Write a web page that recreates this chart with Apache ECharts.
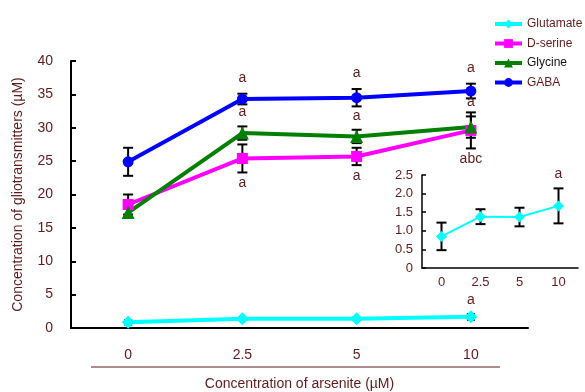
<!DOCTYPE html>
<html>
<head>
<meta charset="utf-8">
<script src="https://cdn.jsdelivr.net/npm/echarts@6/dist/echarts.min.js"></script>
<style>
  html, body { margin: 0; padding: 0; background: #fff; }
  #main { width: 585px; height: 392px; }
</style>
</head>
<body>
<div id="main"></div>
<script>
// data -----------------------------------------
var categories = ['0', '2.5', '5', '10'];
var yTicks = [0, 5, 10, 15, 20, 25, 30, 35, 40];
var insetTicks = [0, 0.5, 1.0, 1.5, 2.0, 2.5];

var glutamate = [0.85, 1.38, 1.37, 1.67];
var glutamateErr = [0.37, 0.2, 0.25, 0.47];
var dserine = [18.5, 25.4, 25.7, 29.6];
var dserineErr = [1.5, 2.1, 1.3, 2.7];
var glycine = [17.3, 29.2, 28.7, 30.1];
var glycineErr = [0.8, 1.0, 1.0, 1.6];
var gaba = [24.9, 34.3, 34.5, 35.5];
var gabaErr = [2.1, 0.8, 1.3, 1.1];

var gabaLabels = ['', 'a', 'a', 'a'];
var glycineLabels = ['', 'a', 'a', 'a'];
var dserineLabels = ['', 'a', 'a', 'abc'];
var glutamateLabels = ['', '', '', 'a'];

var textColor = '#5e1a1a';
var font = 'Liberation Sans, Arial, sans-serif';

//error bars-----------------------------------------
function errorSeries(means, errs, axis, cap, lw) {
    return {
        type: 'custom',
        xAxisIndex: axis,
        yAxisIndex: axis,
        z: 1,
        silent: true,
        data: means.map(function (m, i) { return [i, m - errs[i], m + errs[i]]; }),
        renderItem: function (params, api) {
            var lo = api.coord([api.value(0), api.value(1)]);
            var hi = api.coord([api.value(0), api.value(2)]);
            var st = {stroke: '#000', lineWidth: lw};
            return {
                type: 'group',
                children: [
                    {type: 'line', shape: {x1: lo[0], y1: lo[1], x2: hi[0], y2: hi[1]}, style: st},
                    {type: 'line', shape: {x1: lo[0] - cap, y1: lo[1], x2: lo[0] + cap, y2: lo[1]}, style: st},
                    {type: 'line', shape: {x1: hi[0] - cap, y1: hi[1], x2: hi[0] + cap, y2: hi[1]}, style: st}
                ]
            };
        }
    };
}

//significance letters-----------------------------------------
function letterSeries(texts, means, errs, dir, axis, gap) {
    return {
        type: 'custom',
        xAxisIndex: axis,
        yAxisIndex: axis,
        z: 5,
        silent: true,
        data: means.map(function (m, i) { return [i, dir > 0 ? m + errs[i] : m - errs[i]]; }),
        renderItem: function (params, api) {
            var p = api.coord([api.value(0), api.value(1)]);
            return {
                type: 'text',
                style: {
                    x: p[0],
                    y: p[1] - dir * gap,
                    text: texts[params.dataIndex],
                    fill: textColor,
                    font: '14px ' + font,
                    textAlign: 'center',
                    textVerticalAlign: 'middle'
                }
            };
        }
    };
}

function lineSeries(name, data, color, symbol, size, width, axis) {
    return {
        name: name,
        type: 'line',
        xAxisIndex: axis,
        yAxisIndex: axis,
        z: 3,
        data: data,
        symbol: symbol,
        symbolSize: size,
        itemStyle: {color: color},
        lineStyle: {color: color, width: width}
    };
}

var axisLineStyle = {color: '#000', width: 2};
var labelStyle = {color: textColor, fontSize: 13, fontFamily: font};

var myChart = echarts.init(document.getElementById('main'));

var option = {
    animation: false,
    legend: {
        orient: 'vertical',
        left: 488,
        top: 13,
        itemWidth: 27,
        itemHeight: 11,
        itemGap: 7.5,
        lineStyle: {width: 4},
        textStyle: {color: textColor, fontSize: 12, fontFamily: font},
        data: [
            {name: 'Glutamate'},
            {name: 'D-serine'},
            {name: 'Glycine', textStyle: {color: '#111'}},
            {name: 'GABA'}
        ]
    },
    grid: [
        {left: 71, right: 57, top: 61, bottom: 64, outerBoundsMode: 'none'},
        {left: 422, width: 156, top: 175, height: 93, outerBoundsMode: 'none'}
    ],
    xAxis: [
        {
            type: 'category',
            gridIndex: 0,
            data: categories,
            boundaryGap: true,
            axisLine: {lineStyle: axisLineStyle},
            axisTick: {inside: true, length: 5, lineStyle: {color: '#000', width: 2}},
            axisLabel: {margin: 20, fontSize: 14, color: textColor, fontFamily: font},
            name: 'Concentration of arsenite (\u00b5M)',
            nameLocation: 'middle',
            nameGap: 49,
            nameTextStyle: {color: textColor, fontSize: 14, fontFamily: font}
        },
        {
            type: 'category',
            gridIndex: 1,
            data: categories,
            boundaryGap: true,
            axisLine: {lineStyle: {color: '#000', width: 1.5}},
            axisTick: {inside: true, length: 4, lineStyle: {color: '#000', width: 1.5}},
            axisLabel: Object.assign({margin: 8}, labelStyle)
        }
    ],
    yAxis: [
        {
            type: 'value',
            gridIndex: 0,
            min: yTicks[0],
            max: yTicks[yTicks.length - 1],
            interval: yTicks[1] - yTicks[0],
            splitLine: {show: false},
            axisLine: {show: true, lineStyle: axisLineStyle},
            axisTick: {show: true, inside: true, length: 5, lineStyle: {color: '#000', width: 2}},
            axisLabel: {margin: 18, fontSize: 14, color: textColor, fontFamily: font},
            name: 'Concentration of gliotransmitters (\u00b5M)',
            nameLocation: 'middle',
            nameGap: 46,
            nameTextStyle: {color: textColor, fontSize: 14, fontFamily: font}
        },
        {
            type: 'value',
            gridIndex: 1,
            min: insetTicks[0],
            max: insetTicks[insetTicks.length - 1],
            interval: insetTicks[1] - insetTicks[0],
            splitLine: {show: false},
            axisLine: {show: true, lineStyle: {color: '#000', width: 1.5}},
            axisTick: {show: true, inside: true, length: 4, lineStyle: {color: '#000', width: 1.5}},
            axisLabel: Object.assign({
                margin: 9,
                formatter: function (v) { return v === 0 ? '0' : v.toFixed(1); }
            }, labelStyle)
        }
    ],
    graphic: [
        {type: 'line', shape: {x1: 91, y1: 367, x2: 500, y2: 367}, style: {stroke: textColor, lineWidth: 1}}
    ],
    series: [
        errorSeries(glutamate, glutamateErr, 0, 4, 1.5),
        errorSeries(dserine, dserineErr, 0, 5, 2),
        errorSeries(glycine, glycineErr, 0, 5, 2),
        errorSeries(gaba, gabaErr, 0, 5, 2),
        errorSeries(glutamate, glutamateErr, 1, 5, 2),
        lineSeries('Glutamate', glutamate, '#00ffff', 'diamond', 13, 4, 0),
        lineSeries('D-serine', dserine, '#ff00ff', 'rect', 11, 4, 0),
        lineSeries('Glycine', glycine, '#007f00', 'triangle', 13, 4, 0),
        lineSeries('GABA', gaba, '#0000ff', 'circle', 11, 4, 0),
        lineSeries('Glutamate', glutamate, '#00ffff', 'diamond', 11, 2, 1),
        letterSeries(gabaLabels, gaba, gabaErr, 1, 0, 16),
        letterSeries(glycineLabels, glycine, glycineErr, 1, 0, 14),
        letterSeries(dserineLabels, dserine, dserineErr, -1, 0, 11),
        letterSeries(glutamateLabels, glutamate, glutamateErr, 1, 0, 14),
        letterSeries(glutamateLabels, glutamate, glutamateErr, 1, 1, 14)
    ]
};

myChart.setOption(option);
</script>
</body>
</html>
